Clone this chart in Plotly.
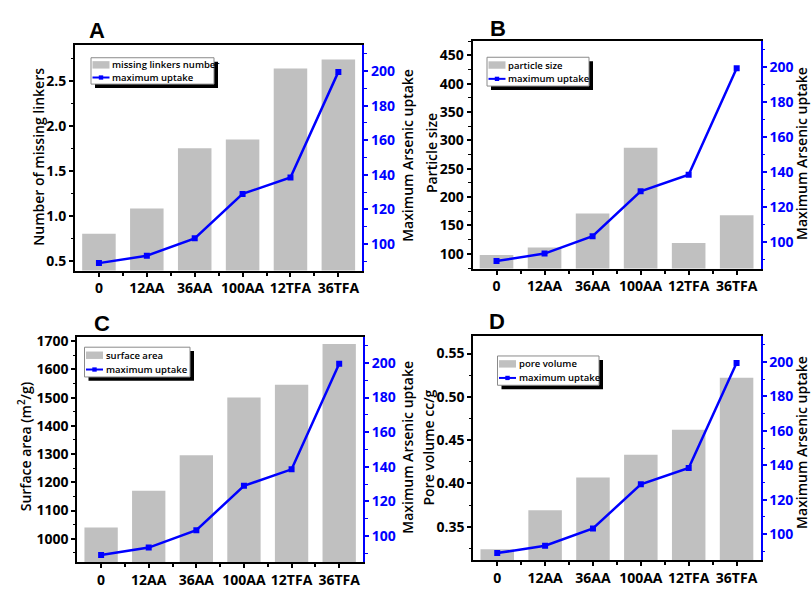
import plotly.graph_objects as go

W, H = 811, 589

categories = ["0", "12AA", "36AA", "100AA", "12TFA", "36TFA"]
uptake = [89, 93.3, 103.3, 129, 138.5, 199.5]
missing_linkers = [0.80, 1.08, 1.75, 1.85, 2.64, 2.74]
particle_size = [98, 111, 171, 287, 119, 168]
surface_area = [1040, 1170, 1296, 1500, 1546, 1690]
pore_volume = [0.324, 0.369, 0.407, 0.433, 0.462, 0.522]

bar_labels = ["missing linkers number", "particle size", "surface area", "pore volume"]
line_label = "maximum uptake"
left_titles = ["Number of missing linkers", "Particle size",
               "Surface area (m<sup>2</sup>/g)", "Pore volume cc/g"]
right_title = "Maximum Arsenic uptake"
letters = ["A", "B", "C", "D"]

GRAY = "#c0c0c0"
BLUE = "#0000ff"
FONT = "Open Sans"


def px(x):
    return x / W


def py(y):
    return 1 - y / H


# panel layout in pixels: (x0, x1, ytop, ybottom)
panels = [
    (75, 362.3, 40, 271),
    (472.5, 760.7, 36, 269),
    (77.3, 363, 339, 570),
    (473.3, 760.5, 338.3, 568),
]
left_ranges = [[0.39, 2.9], [74, 475], [916, 1715], [0.311, 0.57]]
left_dticks = [0.5, 50, 100, 0.05]
left_formats = [".1f", "d", "d", ".2f"]
right_range = [84.7, 215]
bar_values = [missing_linkers, particle_size, surface_area, pore_volume]

fig = go.Figure()
layout = dict(
    width=W, height=H, margin=dict(l=0, r=0, t=0, b=0),
    paper_bgcolor="white", plot_bgcolor="white", showlegend=False,
    font=dict(family=FONT, color="black"),
)

tick_font = dict(family=FONT, size=14, color="black", weight="bold")
tick_font_blue = dict(family=FONT, size=14, color=BLUE, weight="bold")

for i in range(4):
    xn = "" if i == 0 else str(i + 1)
    yl = str(2 * i + 1) if i > 0 else ""
    yr = str(2 * i + 2)
    x0, x1, yt, yb = panels[i]
    fig.add_trace(go.Bar(
        x=categories, y=bar_values[i], name=bar_labels[i],
        marker=dict(color=GRAY, line=dict(width=0)), width=0.7,
        xaxis="x" + xn, yaxis="y" + yl,
    ))
    fig.add_trace(go.Scatter(
        x=categories, y=uptake, name=line_label, mode="lines+markers",
        line=dict(color=BLUE, width=2.5),
        marker=dict(symbol="square", size=6, color=BLUE),
        xaxis="x" + xn, yaxis="y" + yr,
    ))
    layout["xaxis" + xn] = dict(
        domain=[px(x0), px(x1)], anchor="y" + yl, type="category",
        categoryorder="array", categoryarray=categories,
        range=[-0.5, 5.5], showline=True, mirror=True, linecolor="black",
        linewidth=2, ticks="outside", ticklen=4, tickwidth=1.5,
        tickcolor="black", tickfont=tick_font, showgrid=False,
        minor=dict(ticks="outside", tickvals=[0.5, 1.5, 2.5, 3.5, 4.5],
                   ticklen=3, tickwidth=1.5, tickcolor="black"),
    )
    layout["yaxis" + yl] = dict(
        domain=[py(yb), py(yt)], anchor="x" + xn, range=left_ranges[i],
        dtick=left_dticks[i], tickformat=left_formats[i],
        showline=True, linecolor="black", linewidth=2,
        ticks="outside", ticklen=4, tickwidth=1.5, tickcolor="black",
        tickfont=tick_font, showgrid=False, zeroline=False,
        minor=dict(ticks="outside", dtick=left_dticks[i] / 2, ticklen=2.5,
                   tickwidth=1.2, tickcolor="black"),
    )
    layout["yaxis" + yr] = dict(
        domain=[py(yb), py(yt)], anchor="x" + xn, overlaying="y" + yl,
        side="right", range=right_range, dtick=20, tick0=0,
        showline=True, linecolor=BLUE, linewidth=2,
        ticks="outside", ticklen=4, tickwidth=1.5, tickcolor=BLUE,
        tickfont=tick_font_blue, showgrid=False, zeroline=False,
        minor=dict(ticks="outside", dtick=10, ticklen=2.5, tickwidth=1.2,
                   tickcolor=BLUE),
    )

annotations = []
# panel letters
letter_pos = [(97, 25), (498, 23), (102, 325), (497.5, 323.5)]
for t, (x, y) in zip(letters, letter_pos):
    annotations.append(dict(
        text=t, x=px(x), y=py(y), xref="paper", yref="paper",
        showarrow=False, xanchor="center", yanchor="middle",
        font=dict(family="Liberation Sans", size=22, color="black", weight="bold"),
    ))

title_font = dict(family=FONT, size=14, color="black", weight=600)
left_title_pos = [(38.3, 154), (431.7, 151), (25, 451), (428.3, 452)]
right_title_pos = [(407.5, 153), (801.5, 151), (407.5, 452), (801.5, 447)]
for i in range(4):
    for text, (x, y) in ((left_titles[i], left_title_pos[i]),
                         (right_title, right_title_pos[i])):
        annotations.append(dict(
            text=text, x=px(x), y=py(y), xref="paper", yref="paper",
            showarrow=False, textangle=-90, xanchor="center", yanchor="middle",
            font=title_font,
        ))

# legends (box, two rows, swatch, text start)
legend_boxes = [
    (91, 53, 214, 80),
    (487, 52.5, 589, 82),
    (84.5, 349.5, 190, 380),
    (497.5, 358.5, 599, 388.5),
]
shapes = []
leg_font = dict(family=FONT, size=9.5, color="black", weight=600)
for i, (bx0, by0, bx1, by1) in enumerate(legend_boxes):
    # shadow
    shapes.append(dict(type="rect", xref="paper", yref="paper", layer="above",
                       x0=px(bx0 + 4), x1=px(bx1 + 4), y0=py(by1 + 4), y1=py(by0 + 4),
                       fillcolor="black", line=dict(width=0)))
    shapes.append(dict(type="rect", xref="paper", yref="paper", layer="above",
                       x0=px(bx0), x1=px(bx1), y0=py(by1), y1=py(by0),
                       fillcolor="white", line=dict(color="#8a8a8a", width=1)))
    h = by1 - by0
    r1 = by0 + h * 0.27
    r2 = by0 + h * 0.75
    sx0, sx1 = bx0 + 1.5, bx0 + 18.5
    shapes.append(dict(type="rect", xref="paper", yref="paper", layer="above",
                       x0=px(sx0), x1=px(sx1), y0=py(r1 + 3.8), y1=py(r1 - 3.8),
                       fillcolor=GRAY, line=dict(width=0)))
    shapes.append(dict(type="line", xref="paper", yref="paper", layer="above",
                       x0=px(sx0), x1=px(sx1), y0=py(r2), y1=py(r2),
                       line=dict(color=BLUE, width=2)))
    mx = (sx0 + sx1) / 2
    shapes.append(dict(type="rect", xref="paper", yref="paper", layer="above",
                       x0=px(mx - 2.2), x1=px(mx + 2.2), y0=py(r2 + 2.2), y1=py(r2 - 2.2),
                       fillcolor=BLUE, line=dict(width=0)))
    for text, ry in ((bar_labels[i], r1), (line_label, r2)):
        annotations.append(dict(
            text=text, x=px(sx1 + 0.5), y=py(ry), xref="paper", yref="paper",
            showarrow=False, xanchor="left", yanchor="middle", font=leg_font,
        ))

layout["annotations"] = annotations
layout["shapes"] = shapes
fig.update_layout(**layout)
fig.write_html("out.html")
